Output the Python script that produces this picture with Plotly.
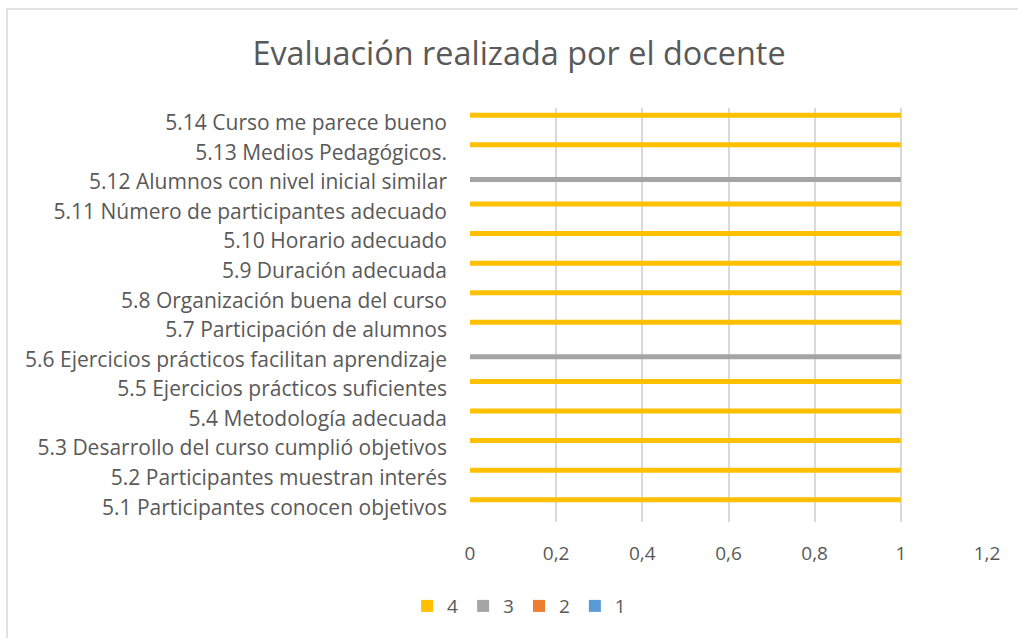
import plotly.graph_objects as go

# Survey items (bottom to top on the category axis)
categories = [
    "5.1 Participantes conocen objetivos",
    "5.2 Participantes muestran interés",
    "5.3 Desarrollo del curso cumplió objetivos",
    "5.4 Metodología adecuada",
    "5.5 Ejercicios prácticos suficientes",
    "5.6 Ejercicios prácticos facilitan aprendizaje",
    "5.7 Participación de alumnos",
    "5.8 Organización buena del curso",
    "5.9 Duración adecuada",
    "5.10 Horario adecuado",
    "5.11 Número de participantes adecuado",
    "5.12 Alumnos con nivel inicial similar",
    "5.13 Medios Pedagógicos.",
    "5.14 Curso me parece bueno",
]

# Share of answers per rating (1..4)
rating_1 = [0, 0, 0, 0, 0, 0, 0, 0, 0, 0, 0, 0, 0, 0]
rating_2 = [0, 0, 0, 0, 0, 0, 0, 0, 0, 0, 0, 0, 0, 0]
rating_3 = [0, 0, 0, 0, 0, 1, 0, 0, 0, 0, 0, 1, 0, 0]
rating_4 = [1, 1, 1, 1, 1, 0, 1, 1, 1, 1, 1, 0, 1, 1]

x_ticks = [0, 0.2, 0.4, 0.6, 0.8, 1, 1.2]
x_tick_text = ["0", "0,2", "0,4", "0,6", "0,8", "1", "1,2"]

series = [
    ("1", rating_1, "#5B9BD5"),
    ("2", rating_2, "#ED7D31"),
    ("3", rating_3, "#A5A5A5"),
    ("4", rating_4, "#FFC000"),
]

FONT = "Open Sans"
TEXT = "#595959"

fig = go.Figure()
for name, vals, color in series:
    fig.add_trace(go.Bar(
        name=name, x=vals, y=categories, orientation="h",
        marker=dict(color=color, line=dict(width=0)),
    ))

fig.update_layout(
    width=1018, height=638,
    margin=dict(l=470, r=31, t=108, b=116),
    paper_bgcolor="white", plot_bgcolor="white",
    barmode="group", bargap=0.324, bargroupgap=0,
    font=dict(family=FONT, color=TEXT, size=18),
    title=dict(
        text="Evaluación realizada por el docente",
        font=dict(family=FONT, size=32.4, color=TEXT),
        x=519 / 1018, xref="container", xanchor="center",
        y=1 - 54 / 638, yref="container", yanchor="middle",
    ),
    legend=dict(
        orientation="h", traceorder="reversed",
        x=0.095, xanchor="center", y=-0.203, yanchor="middle",
        font=dict(size=19, color=TEXT),
        itemwidth=30,
    ),
    showlegend=True,
)

fig.update_xaxes(
    range=[0, 1.2], tickvals=x_ticks, ticktext=x_tick_text,
    showgrid=True, gridcolor="#D9D9D9", gridwidth=1.5,
    zeroline=False, showline=False, ticks="",
    ticklabelstandoff=18,
    tickfont=dict(size=19, color=TEXT),
)
fig.update_yaxes(
    type="category", categoryorder="array", categoryarray=categories,
    showgrid=False, zeroline=False, showline=False, ticks="",
    ticklabelstandoff=22,
    tickfont=dict(size=21, color=TEXT),
)

# chart-area frame
fig.add_shape(
    type="rect", xref="paper", yref="paper",
    x0=(7 - 470) / 517, x1=1.2, y0=-0.4, y1=(522 - 9) / 414,
    line=dict(color="#D9D9D9", width=1.5), fillcolor="rgba(0,0,0,0)",
    layer="below",
)

fig.write_html("out.html")
